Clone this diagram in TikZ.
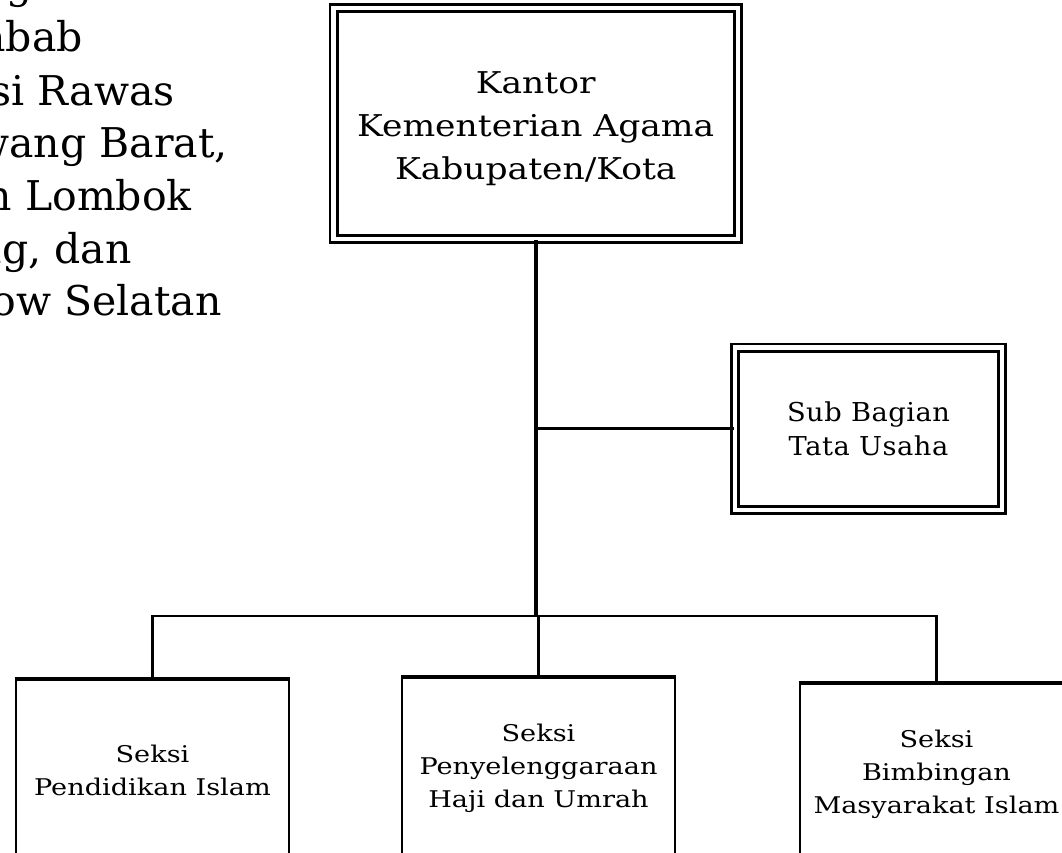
\documentclass[tikz,border=0pt]{standalone}
\usepackage{fontspec}
\setmainfont{DejaVu Serif}
\newfontfamily\kantorfont[FakeStretch=1.15]{DejaVu Serif}
\newfontfamily\subfont[FakeStretch=1.05,LetterSpace=2]{DejaVu Serif}
\newfontfamily\sectfont[FakeStretch=1.18]{DejaVu Serif}
\begin{document}
\begin{tikzpicture}[x=1pt,y=-1pt,
  toptext/.style={font=\fontsize{41}{52}\selectfont, anchor=base east, inner sep=0pt},
  headbox/.style={draw, double, line width=2.8pt, double distance=4.4pt, align=center, inner sep=0pt},
  sectbox/.style={draw, line width=2.5pt, align=center, inner sep=0pt, minimum width=273pt, minimum height=180pt, font=\sectfont\fontsize{23}{33}\selectfont},
  topedge/.style={line width=3.5pt},
  mainline/.style={line width=4pt},
  conn/.style={line width=2.6pt},
  thinconn/.style={line width=2.2pt}
]
\useasboundingbox (0,0) rectangle (1062,852);
\clip (0,0) rectangle (1062,852);
\fill[white] (0,0) rectangle (1062,852);

% clipped paragraph on the left
\node[toptext] (t0) at (84,-1.5) {gan};
\node[toptext] (t1) at (83,51) {abab};
\node[toptext] (t2) at (175,105) {Musi Rawas};
\node[toptext] (t3) at (228,157) {Tulang Bawang Barat,};
\node[toptext] (t4) at (192,210) {Kabupaten Lombok};
\node[toptext] (t5) at (132,263) {ng, dan};
\node[toptext] (t6) at (222,315) {Bolaang Mongondow Selatan};

% boxes
\node[headbox, minimum width=404.5pt, minimum height=231pt, font=\kantorfont\fontsize{30}{43}\selectfont] (kantor) at (535.75,123.5)
  {\rule{0pt}{0pt}\\[-10pt]Kantor\\Kementerian Agama\\Kabupaten/Kota};
\node[headbox, minimum width=267pt, minimum height=162.5pt, font=\subfont\fontsize{26}{34}\selectfont] (sub) at (868.5,428.75)
  {Sub Bagian\\Tata Usaha};
\node[sectbox] (box1) at (152.5,770) {Seksi\\Pendidikan Islam};
\node[sectbox] (box2) at (538.5,768) {Seksi\\Penyelenggaraan\\Haji dan Umrah};
\node[sectbox] (box3) at (936.5,774) {Seksi\\Bimbingan\\Masyarakat Islam};
\foreach \b in {box1,box2,box3}
  \draw[topedge] (\b.north west) -- (\b.north east);

% connectors
\coordinate (busL) at (152.5,616);
\coordinate (busM) at (kantor.south |- busL);
\draw[mainline] (kantor.south) -- (busM);
\draw[conn] (kantor.south |- sub.west) -- (sub.west);
\draw[conn] (box1.north) -- (box1.north |- busL) -- (box3.north |- busL) -- (box3.north);
\draw[thinconn] (box2.north |- busL) -- (box2.north);
\end{tikzpicture}
\end{document}
